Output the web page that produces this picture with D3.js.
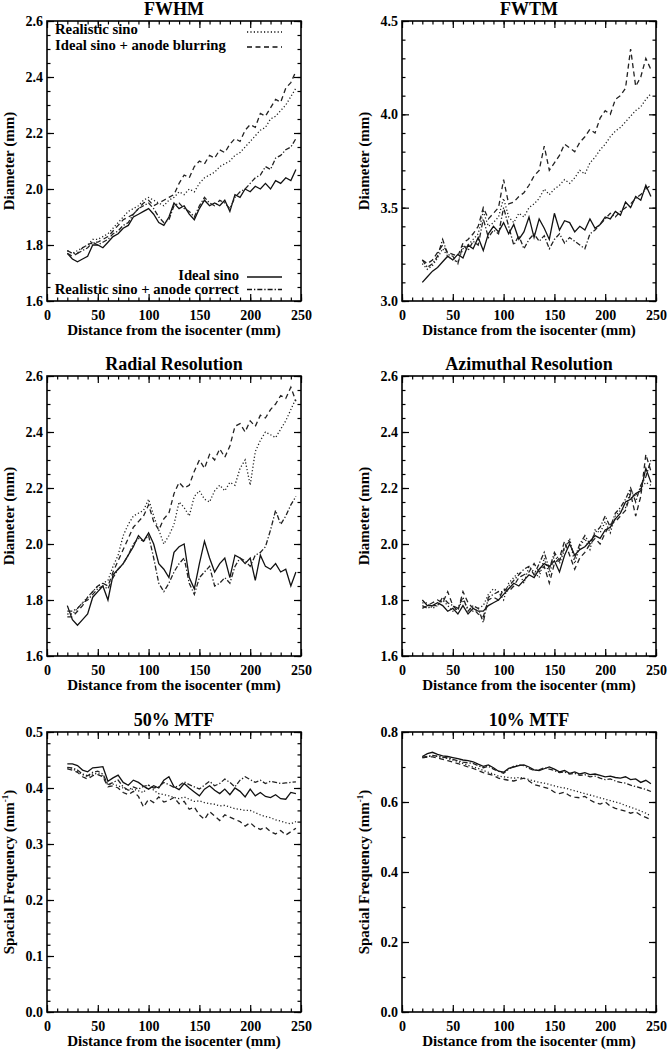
<!DOCTYPE html>
<html><head><meta charset="utf-8">
<script src="https://cdn.jsdelivr.net/npm/d3@7"></script>
<style>
html,body{margin:0;padding:0;background:#fff;}
svg text{font-family:"Liberation Serif","Times New Roman",serif;font-weight:bold;fill:#000;}
</style></head>
<body>
<svg id="chart" width="668" height="1050"></svg>
<script>
// ---------- data ----------
const xs = [20,25,30,35,40,45,50,55,60,65,70,75,80,85,90,95,100,105,110,115,120,125,130,135,140,145,150,155,160,165,170,175,180,185,190,195,200,205,210,215,220,225,230,235,240,245];

const seriesNames = ["Ideal sino","Realistic sino","Ideal sino + anode blurring","Realistic sino + anode correct"];
const xTicks = [0,50,100,150,200,250];

// FWHM
const fwhmIdeal = [1.77,1.75,1.74,1.75,1.76,1.80,1.80,1.79,1.81,1.83,1.84,1.86,1.87,1.90,1.91,1.92,1.93,1.91,1.88,1.87,1.90,1.95,1.93,1.94,1.91,1.89,1.93,1.96,1.94,1.95,1.94,1.96,1.92,1.98,1.97,2.00,1.99,2.01,2.00,2.02,2.00,2.03,2.02,2.04,2.03,2.07];
const fwhmRealistic = [1.78,1.77,1.78,1.79,1.80,1.82,1.82,1.83,1.84,1.86,1.88,1.90,1.92,1.93,1.94,1.96,1.97,1.96,1.95,1.94,1.96,1.97,1.99,1.98,2.00,1.99,2.02,2.04,2.05,2.06,2.08,2.09,2.10,2.12,2.13,2.15,2.17,2.19,2.21,2.22,2.25,2.26,2.28,2.30,2.33,2.36];
const fwhmBlur = [1.77,1.76,1.77,1.79,1.80,1.81,1.81,1.82,1.83,1.85,1.87,1.89,1.90,1.91,1.93,1.95,1.96,1.94,1.95,1.96,1.97,1.98,2.02,2.05,2.04,2.08,2.10,2.09,2.12,2.11,2.14,2.13,2.16,2.18,2.17,2.21,2.23,2.22,2.27,2.26,2.29,2.32,2.31,2.36,2.38,2.42];
const fwhmCorrect = [1.78,1.77,1.77,1.78,1.79,1.81,1.80,1.81,1.82,1.84,1.85,1.87,1.88,1.91,1.93,1.94,1.95,1.93,1.90,1.88,1.89,1.94,1.95,1.93,1.92,1.90,1.94,1.97,1.95,1.94,1.96,1.95,1.93,1.97,1.99,2.00,2.02,2.04,2.05,2.08,2.07,2.11,2.12,2.14,2.15,2.18];
const fwhmTicks = [1.6,1.8,2.0,2.2,2.4,2.6];

// FWTM
const fwtmIdeal = [3.10,3.13,3.16,3.18,3.21,3.24,3.22,3.25,3.23,3.30,3.28,3.34,3.27,3.36,3.40,3.37,3.42,3.36,3.41,3.33,3.37,3.45,3.34,3.44,3.39,3.33,3.47,3.38,3.43,3.42,3.37,3.40,3.38,3.44,3.39,3.41,3.45,3.44,3.48,3.46,3.53,3.50,3.56,3.54,3.62,3.56];
const fwtmRealistic = [3.20,3.17,3.19,3.23,3.28,3.24,3.22,3.21,3.28,3.30,3.33,3.36,3.48,3.40,3.42,3.45,3.55,3.45,3.42,3.47,3.45,3.50,3.52,3.55,3.60,3.57,3.60,3.62,3.65,3.63,3.66,3.70,3.68,3.74,3.77,3.81,3.84,3.88,3.91,3.93,3.96,3.99,4.02,4.04,4.08,4.11];
const fwtmBlur = [3.22,3.20,3.22,3.26,3.30,3.26,3.25,3.24,3.31,3.33,3.36,3.40,3.50,3.44,3.47,3.50,3.65,3.52,3.53,3.56,3.58,3.62,3.67,3.70,3.83,3.70,3.74,3.78,3.84,3.82,3.80,3.85,3.88,3.92,3.90,3.98,4.02,4.00,4.08,4.10,4.14,4.35,4.15,4.20,4.30,4.24];
const fwtmCorrect = [3.22,3.18,3.20,3.24,3.33,3.25,3.24,3.20,3.30,3.27,3.32,3.30,3.44,3.34,3.38,3.36,3.50,3.40,3.30,3.35,3.28,3.33,3.36,3.32,3.35,3.28,3.33,3.36,3.31,3.34,3.32,3.30,3.28,3.36,3.38,3.41,3.44,3.47,3.45,3.48,3.50,3.52,3.55,3.57,3.60,3.62];
const fwtmTicks = [3.0,3.5,4.0,4.5];

// Radial resolution
const radIdeal = [1.78,1.73,1.71,1.73,1.75,1.81,1.83,1.85,1.80,1.89,1.91,1.93,1.96,1.99,2.03,2.01,2.04,2.00,1.93,1.91,1.88,1.97,1.99,2.00,1.88,1.84,1.93,2.01,1.95,1.90,1.93,1.95,1.88,1.96,1.95,1.93,1.95,1.87,1.96,1.92,1.91,1.93,1.90,1.91,1.85,1.90];
const radRealistic = [1.75,1.75,1.77,1.79,1.81,1.83,1.85,1.86,1.87,1.92,1.96,2.03,2.07,2.10,2.11,2.12,2.16,2.10,2.05,2.00,2.03,2.07,2.15,2.13,2.10,2.17,2.19,2.16,2.15,2.19,2.21,2.19,2.22,2.21,2.27,2.30,2.21,2.33,2.37,2.40,2.39,2.38,2.41,2.44,2.48,2.52];
const radBlur = [1.74,1.74,1.76,1.78,1.81,1.83,1.85,1.86,1.85,1.90,1.94,1.98,2.02,2.06,2.08,2.10,2.14,2.08,2.05,2.09,2.11,2.18,2.22,2.20,2.21,2.26,2.30,2.27,2.32,2.30,2.34,2.31,2.35,2.42,2.43,2.40,2.44,2.42,2.46,2.45,2.48,2.50,2.53,2.52,2.56,2.51];
const radCorrect = [1.76,1.76,1.77,1.79,1.80,1.82,1.84,1.85,1.84,1.88,1.91,1.93,1.96,2.00,2.02,2.01,2.03,1.95,1.86,1.83,1.86,1.90,1.93,1.95,1.86,1.82,1.88,1.90,1.92,1.85,1.86,1.88,1.86,1.92,1.95,1.94,1.92,1.96,1.97,1.99,2.05,2.12,2.07,2.10,2.14,2.17];
const radTicks = [1.6,1.8,2.0,2.2,2.4,2.6];

// Azimuthal resolution
const aziIdeal = [1.80,1.78,1.78,1.79,1.78,1.76,1.77,1.75,1.78,1.75,1.77,1.76,1.76,1.78,1.79,1.80,1.82,1.84,1.86,1.85,1.87,1.89,1.88,1.91,1.93,1.92,1.94,1.90,1.96,2.00,1.96,1.98,1.99,2.01,2.03,2.02,2.05,2.06,2.09,2.11,2.15,2.16,2.18,2.19,2.27,2.22];
const aziRealistic = [1.79,1.79,1.77,1.78,1.80,1.78,1.76,1.77,1.80,1.77,1.76,1.77,1.78,1.82,1.84,1.83,1.80,1.86,1.88,1.90,1.86,1.92,1.90,1.88,1.95,1.89,1.96,1.93,1.98,2.02,1.93,1.99,2.02,1.98,2.05,2.04,2.08,2.04,2.10,2.12,2.13,2.19,2.17,2.20,2.22,2.21];
const aziBlur = [1.77,1.78,1.79,1.80,1.79,1.83,1.78,1.76,1.83,1.79,1.77,1.75,1.74,1.80,1.81,1.80,1.84,1.83,1.85,1.88,1.89,1.90,1.93,1.90,1.92,1.86,1.93,1.95,2.01,1.96,1.91,1.95,1.97,2.00,2.02,2.00,2.04,2.07,2.08,2.10,2.12,2.18,2.10,2.17,2.32,2.26];
const aziCorrect = [1.78,1.77,1.78,1.78,1.81,1.79,1.78,1.77,1.81,1.76,1.78,1.77,1.72,1.81,1.82,1.83,1.83,1.85,1.87,1.89,1.91,1.92,1.89,1.93,1.97,1.91,1.97,1.94,1.99,2.01,1.95,2.00,2.03,2.00,2.04,2.06,2.10,2.06,2.11,2.13,2.16,2.20,2.15,2.21,2.24,2.30];
const aziTicks = [1.6,1.8,2.0,2.2,2.4,2.6];

// 50% MTF
const mtf50Ideal = [0.443,0.443,0.440,0.432,0.429,0.436,0.437,0.438,0.412,0.418,0.423,0.410,0.405,0.414,0.410,0.403,0.398,0.404,0.400,0.414,0.420,0.402,0.397,0.408,0.400,0.393,0.386,0.398,0.404,0.396,0.390,0.398,0.388,0.400,0.394,0.384,0.398,0.386,0.392,0.385,0.383,0.388,0.381,0.380,0.392,0.390];
const mtf50Realistic = [0.436,0.434,0.430,0.424,0.420,0.425,0.426,0.422,0.405,0.407,0.404,0.400,0.396,0.398,0.395,0.392,0.405,0.396,0.390,0.388,0.386,0.383,0.381,0.384,0.380,0.376,0.377,0.374,0.372,0.371,0.368,0.369,0.366,0.363,0.362,0.360,0.360,0.356,0.352,0.349,0.347,0.343,0.341,0.338,0.336,0.340];
const mtf50Blur = [0.434,0.432,0.428,0.420,0.416,0.422,0.424,0.420,0.402,0.404,0.400,0.392,0.388,0.394,0.385,0.366,0.380,0.374,0.384,0.375,0.378,0.383,0.372,0.376,0.362,0.366,0.352,0.344,0.358,0.350,0.342,0.352,0.348,0.344,0.340,0.332,0.338,0.330,0.326,0.330,0.322,0.318,0.324,0.316,0.322,0.328];
const mtf50Correct = [0.437,0.436,0.432,0.425,0.422,0.428,0.430,0.425,0.406,0.410,0.414,0.402,0.396,0.402,0.398,0.403,0.405,0.400,0.402,0.410,0.406,0.401,0.404,0.411,0.406,0.402,0.398,0.405,0.412,0.404,0.408,0.416,0.410,0.402,0.414,0.420,0.415,0.410,0.414,0.408,0.412,0.410,0.408,0.409,0.410,0.411];
const mtf50Ticks = [0.0,0.1,0.2,0.3,0.4,0.5];

// 10% MTF
const mtf10Ideal = [0.730,0.738,0.742,0.736,0.732,0.730,0.727,0.724,0.720,0.718,0.715,0.708,0.702,0.706,0.698,0.688,0.685,0.696,0.700,0.704,0.706,0.700,0.692,0.690,0.695,0.700,0.694,0.686,0.690,0.682,0.686,0.680,0.684,0.678,0.680,0.676,0.672,0.674,0.670,0.668,0.672,0.664,0.666,0.656,0.662,0.652];
const mtf10Realistic = [0.728,0.730,0.732,0.730,0.727,0.724,0.720,0.716,0.710,0.705,0.700,0.696,0.690,0.685,0.680,0.674,0.672,0.670,0.668,0.670,0.668,0.664,0.660,0.656,0.654,0.650,0.646,0.642,0.640,0.636,0.632,0.628,0.624,0.620,0.616,0.612,0.608,0.604,0.600,0.596,0.590,0.585,0.580,0.574,0.568,0.560];
const mtf10Blur = [0.726,0.728,0.729,0.726,0.722,0.718,0.714,0.710,0.705,0.700,0.696,0.690,0.684,0.680,0.676,0.668,0.665,0.662,0.660,0.664,0.668,0.660,0.650,0.646,0.642,0.638,0.628,0.624,0.628,0.618,0.614,0.612,0.616,0.606,0.598,0.594,0.600,0.588,0.582,0.578,0.574,0.568,0.572,0.562,0.556,0.550];
const mtf10Correct = [0.728,0.730,0.733,0.731,0.728,0.726,0.722,0.718,0.714,0.712,0.710,0.704,0.698,0.702,0.694,0.688,0.682,0.694,0.702,0.706,0.704,0.696,0.690,0.692,0.698,0.694,0.690,0.684,0.686,0.680,0.682,0.676,0.678,0.672,0.674,0.668,0.664,0.666,0.660,0.656,0.654,0.648,0.644,0.640,0.636,0.630];
const mtf10Ticks = [0.0,0.2,0.4,0.6,0.8];

// ---------- layout / panels ----------
const panels = [
  {title:"FWHM", ylab:"Diameter (mm)", ticks:fwhmTicks, minor:0.05, col:0,row:0, data:[fwhmIdeal,fwhmRealistic,fwhmBlur,fwhmCorrect], legend:true},
  {title:"FWTM", ylab:"Diameter (mm)", ticks:fwtmTicks, minor:0.1, col:1,row:0, data:[fwtmIdeal,fwtmRealistic,fwtmBlur,fwtmCorrect]},
  {title:"Radial Resolution", ylab:"Diameter (mm)", ticks:radTicks, minor:0.05, col:0,row:1, data:[radIdeal,radRealistic,radBlur,radCorrect]},
  {title:"Azimuthal Resolution", ylab:"Diameter (mm)", ticks:aziTicks, minor:0.05, col:1,row:1, data:[aziIdeal,aziRealistic,aziBlur,aziCorrect]},
  {title:"50% MTF", ylab:"Spacial Frequency (mm", ticks:mtf50Ticks, minor:0.02, col:0,row:2, data:[mtf50Ideal,mtf50Realistic,mtf50Blur,mtf50Correct], freq:true},
  {title:"10% MTF", ylab:"Spacial Frequency (mm", ticks:mtf10Ticks, minor:0.1, col:1,row:2, data:[mtf10Ideal,mtf10Realistic,mtf10Blur,mtf10Correct], freq:true}
];
const colX = [47, 402];
const rowY = [21, 376, 732];
const W = 254, H = 280;
const dashes = [null, "1.2,2.2", "5,3.5", "5,2,1.3,2"];

const svg = d3.select("#chart");

panels.forEach(p => {
  const g = svg.append("g").attr("transform", `translate(${colX[p.col]},${rowY[p.row]})`);
  const x = d3.scaleLinear().domain([0,250]).range([0,W]);
  const yd = d3.extent(p.ticks);
  const y = d3.scaleLinear().domain(yd).range([H,0]);
  const minorY = d3.range(yd[0], yd[1] + 1e-9, p.minor).map(v => +v.toFixed(4));
  const minorX = d3.range(0, 251, 10);

  // axes (ticks inward)
  const addAxis = (axisFn, scale, vals, size, labels, tr) => {
    const a = axisFn(scale).tickValues(vals).tickSizeInner(-size).tickSizeOuter(0).tickPadding(labels ? 6 : 0)
      .tickFormat(labels ? (labels === "x" ? d3.format("d") : d3.format(".1f")) : "");
    const ag = g.append("g").attr("transform", tr).call(a);
    ag.select(".domain").remove();
    ag.selectAll("line").attr("stroke","#000").attr("stroke-width",1.2);
    ag.selectAll("text").attr("font-size",14).attr("fill","#000")
      .style("font-family","'Liberation Serif','Times New Roman',serif").style("font-weight","bold");
    return ag;
  };
  addAxis(d3.axisBottom, x, minorX, 3.5, null, `translate(0,${H})`);
  addAxis(d3.axisBottom, x, xTicks, 7, "x", `translate(0,${H})`).selectAll("text").attr("dy","0.95em");
  addAxis(d3.axisTop, x, minorX, 3.5, null, `translate(0,0)`);
  addAxis(d3.axisTop, x, xTicks, 7, null, `translate(0,0)`);
  addAxis(d3.axisLeft, y, minorY, 3.5, null, `translate(0,0)`);
  addAxis(d3.axisLeft, y, p.ticks, 7, "y", `translate(0,0)`).selectAll("text").attr("dx","0.15em");
  addAxis(d3.axisRight, y, minorY, 3.5, null, `translate(${W},0)`);
  addAxis(d3.axisRight, y, p.ticks, 7, null, `translate(${W},0)`);

  // frame
  g.append("rect").attr("x",0).attr("y",0).attr("width",W).attr("height",H)
    .attr("fill","none").attr("stroke","#000").attr("stroke-width",1.6);

  // lines
  const line = d3.line().x((d,i) => x(xs[i])).y(d => y(d));
  p.data.forEach((arr, k) => {
    g.append("path").datum(arr).attr("d", line).attr("fill","none")
      .attr("stroke", k === 0 ? "#111" : "#222").attr("stroke-width", 1.3)
      .attr("stroke-dasharray", dashes[k]);
  });

  // title
  g.append("text").attr("x", W/2).attr("y", -6.5).attr("text-anchor","middle")
    .attr("font-size",18).text(p.title);
  // x label
  g.append("text").attr("x", W/2).attr("y", H + 34).attr("text-anchor","middle")
    .attr("font-size",15).text("Distance from the isocenter (mm)");
  // y label
  const yl = g.append("text").attr("transform", `translate(-33,${H/2}) rotate(-90)`)
    .attr("text-anchor","middle").attr("font-size",15).text(p.ylab);
  if (p.freq) {
    yl.append("tspan").attr("font-size",9).attr("dy",-6).text("-1");
    yl.append("tspan").attr("dy",6).text(")");
  }

  // legend
  if (p.legend) {
    const items = [
      {k:1, tx:8, ty:13, anchor:"start", ly:11},
      {k:2, tx:8, ty:28.5, anchor:"start", ly:26},
      {k:0, tx:192, ty:259, anchor:"end", ly:256},
      {k:3, tx:192, ty:272.5, anchor:"end", ly:268.5}
    ];
    items.forEach(it => {
      g.append("text").attr("x", it.tx).attr("y", it.ty).attr("text-anchor", it.anchor)
        .attr("font-size",14.7).text(seriesNames[it.k]);
      g.append("line").attr("x1",200).attr("x2",235).attr("y1",it.ly).attr("y2",it.ly)
        .attr("stroke","#111").attr("stroke-width",1.3).attr("stroke-dasharray",dashes[it.k]);
    });
  }
});
</script>
</body></html>
